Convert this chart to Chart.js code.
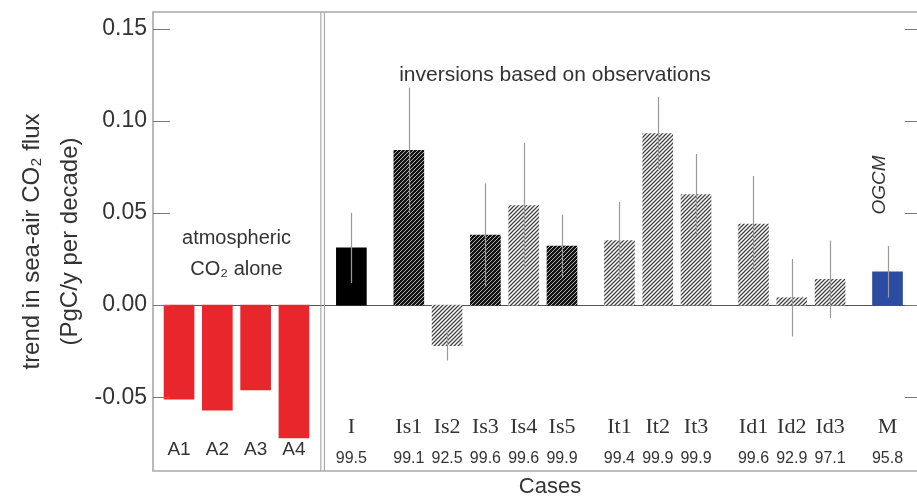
<!DOCTYPE html>
<html>
<head>
<meta charset="utf-8">
<script src="https://cdn.jsdelivr.net/npm/chart.js@4/dist/chart.umd.min.js"></script>
<style>
  html, body { margin: 0; padding: 0; background: #fff; }
  #wrap { width: 917px; height: 502px; }
</style>
</head>
<body>
<div id="wrap"><canvas id="trendChart"></canvas></div>
<script>
// Data
const cases = ['A1', 'A2', 'A3', 'A4', 'I', 'Is1', 'Is2', 'Is3', 'Is4', 'Is5', 'It1', 'It2', 'It3', 'Id1', 'Id2', 'Id3', 'M'];
const groups = ['A', 'A', 'A', 'A', 'I', 'Is', 'Is', 'Is', 'Is', 'Is', 'It', 'It', 'It', 'Id', 'Id', 'Id', 'M'];
const trend = [-0.051, -0.057, -0.046, -0.072, 0.031, 0.084, -0.022, 0.038, 0.054, 0.032, 0.035, 0.093, 0.060, 0.044, 0.004, 0.014, 0.018];
const trendErr = [null, null, null, null, 0.019, 0.034, 0.008, 0.028, 0.034, 0.017, 0.021, 0.020, 0.022, 0.026, 0.021, 0.021, 0.014];
const scores = ['', '', '', '', '99.5', '99.1', '92.5', '99.6', '99.6', '99.9', '99.4', '99.9', '99.9', '99.6', '92.9', '97.1', '95.8'];
const yTicks = [-0.05, 0, 0.05, 0.10, 0.15];

// Bars step by one inside a group and by one and a half between groups
const xPos = [];
let pos = 0;
groups.forEach((g, i) => {
    if (i > 0) pos += (g === groups[i - 1]) ? 1 : 1.5;
    xPos.push(pos);
});

const SANS = '"Liberation Sans", Arial, sans-serif';
const SERIF = '"Liberation Serif", "Times New Roman", serif';
const TEXT = '#333';

// Diagonal hatch fills
function makeHatch(bg, fg, lw) {
    const c = document.createElement('canvas');
    c.width = 4;
    c.height = 4;
    const g = c.getContext('2d');
    g.fillStyle = bg;
    g.fillRect(0, 0, 4, 4);
    g.strokeStyle = fg;
    g.lineWidth = lw;
    g.beginPath();
    g.moveTo(0, 4); g.lineTo(4, 0);
    g.moveTo(-1, 1); g.lineTo(1, -1);
    g.moveTo(3, 5); g.lineTo(5, 3);
    g.stroke();
    return g.createPattern(c, 'repeat');
}
const darkHatch = makeHatch('#111', '#c8c8c8', 0.9);
const lightHatch = makeHatch('#fff', '#444', 1.3);
const darkCases = ['Is1', 'Is3', 'Is5'];

function fillFor(name, group) {
    if (group === 'A') return '#e8262b';
    if (group === 'I') return '#000';
    if (group === 'M') return '#2c4ba3';
    return darkCases.includes(name) ? darkHatch : lightHatch;
}

// Frame, ticks, error bars and annotations
const framePlugin = {
    id: 'frame',
    beforeDatasetsDraw(chart) {
        const { ctx, chartArea: a, scales: { y } } = chart;
        ctx.save();
        ctx.strokeStyle = '#555';
        ctx.lineWidth = 1;
        const y0 = Math.round(y.getPixelForValue(0)) + 0.5;
        ctx.beginPath();
        ctx.moveTo(a.left, y0);
        ctx.lineTo(a.right, y0);
        ctx.stroke();
        ctx.restore();
    },
    afterDatasetsDraw(chart) {
        const { ctx, chartArea: a, scales: { x, y } } = chart;
        ctx.save();

        // error bars
        ctx.strokeStyle = '#999';
        ctx.lineWidth = 1.2;
        cases.forEach((c, i) => {
            if (trendErr[i] == null) return;
            const px = Math.round(x.getPixelForValue(xPos[i])) + 0.5;
            ctx.beginPath();
            ctx.moveTo(px, y.getPixelForValue(trend[i] + trendErr[i]));
            ctx.lineTo(px, y.getPixelForValue(trend[i] - trendErr[i]));
            ctx.stroke();
        });

        // box
        ctx.strokeStyle = '#a8a8a8';
        ctx.lineWidth = 1.6;
        ctx.beginPath();
        ctx.moveTo(a.right, a.top);
        ctx.lineTo(a.left, a.top);
        ctx.lineTo(a.left, a.bottom);
        ctx.lineTo(a.right, a.bottom);
        ctx.stroke();

        // double divider between the atmospheric runs and the inversions
        const xd = x.getPixelForValue((xPos[3] + xPos[4]) / 2);
        ctx.lineWidth = 1.2;
        [-1.8, 1.8].forEach(d => {
            ctx.beginPath();
            ctx.moveTo(xd + d, a.top);
            ctx.lineTo(xd + d, a.bottom);
            ctx.stroke();
        });

        // inward ticks on both sides
        ctx.strokeStyle = '#777';
        ctx.lineWidth = 1;
        yTicks.forEach(v => {
            const py = Math.round(y.getPixelForValue(v)) + 0.5;
            ctx.beginPath();
            ctx.moveTo(a.left, py); ctx.lineTo(a.left + 17, py);
            ctx.moveTo(a.right, py); ctx.lineTo(a.right - 12, py);
            ctx.stroke();
        });

        // case names and scores
        ctx.fillStyle = TEXT;
        ctx.textAlign = 'center';
        ctx.textBaseline = 'alphabetic';
        cases.forEach((c, i) => {
            const px = x.getPixelForValue(xPos[i]);
            if (groups[i] === 'A') {
                ctx.font = '19px ' + SANS;
                ctx.fillText(c, px, a.bottom - 16);
            } else {
                ctx.font = '22px ' + SERIF;
                ctx.fillText(c, px, a.bottom - 38);
                ctx.font = '16px ' + SANS;
                ctx.fillText(scores[i], px, a.bottom - 8);
            }
        });

        // group notes
        ctx.font = '21px ' + SANS;
        ctx.fillText('inversions based on observations', 555, 81);
        ctx.font = '20px ' + SANS;
        const xa = x.getPixelForValue((xPos[0] + xPos[3]) / 2);
        ctx.fillText('atmospheric', xa, 244);
        ctx.fillText('CO\u2082 alone', xa, 275);

        ctx.save();
        ctx.translate(885, 185);
        ctx.rotate(-Math.PI / 2);
        ctx.font = 'italic 19px ' + SANS;
        ctx.fillText('OGCM', 0, 0);
        ctx.restore();

        // x axis title
        ctx.font = '22px ' + SANS;
        ctx.fillText('Cases', 550, 493);

        ctx.restore();
    }
};

const ctx = document.getElementById('trendChart').getContext('2d');
new Chart(ctx, {
    type: 'bar',
    data: {
        datasets: [{
            data: cases.map((c, i) => ({ x: xPos[i], y: trend[i] })),
            backgroundColor: cases.map((c, i) => fillFor(c, groups[i])),
            borderWidth: 0,
            barThickness: 30
        }]
    },
    options: {
        responsive: true,
        maintainAspectRatio: false,
        animation: false,
        layout: { padding: { top: 12, right: 0, bottom: 31, left: 0 } },
        scales: {
            x: {
                type: 'linear',
                display: false,
                offset: false,
                min: -0.68,
                max: 19.27
            },
            y: {
                min: -0.09,
                max: 0.159,
                afterFit: scale => { scale.width = 153; },
                afterBuildTicks: scale => { scale.ticks = yTicks.map(v => ({ value: v })); },
                grid: { display: false, drawTicks: false },
                border: { display: false },
                ticks: {
                    padding: 6,
                    color: TEXT,
                    font: { family: SANS, size: 23, lineHeight: 0.5 },
                    callback: v => v.toFixed(2)
                },
                title: {
                    display: true,
                    text: ['trend in sea-air CO\u2082 flux', '(PgC/y per decade)'],
                    color: TEXT,
                    font: { family: SANS, size: 24, lineHeight: 1.58 },
                    padding: { top: 13, bottom: 0 }
                }
            }
        },
        plugins: {
            legend: { display: false },
            tooltip: { enabled: false }
        }
    },
    plugins: [framePlugin]
});
</script>
</body>
</html>
